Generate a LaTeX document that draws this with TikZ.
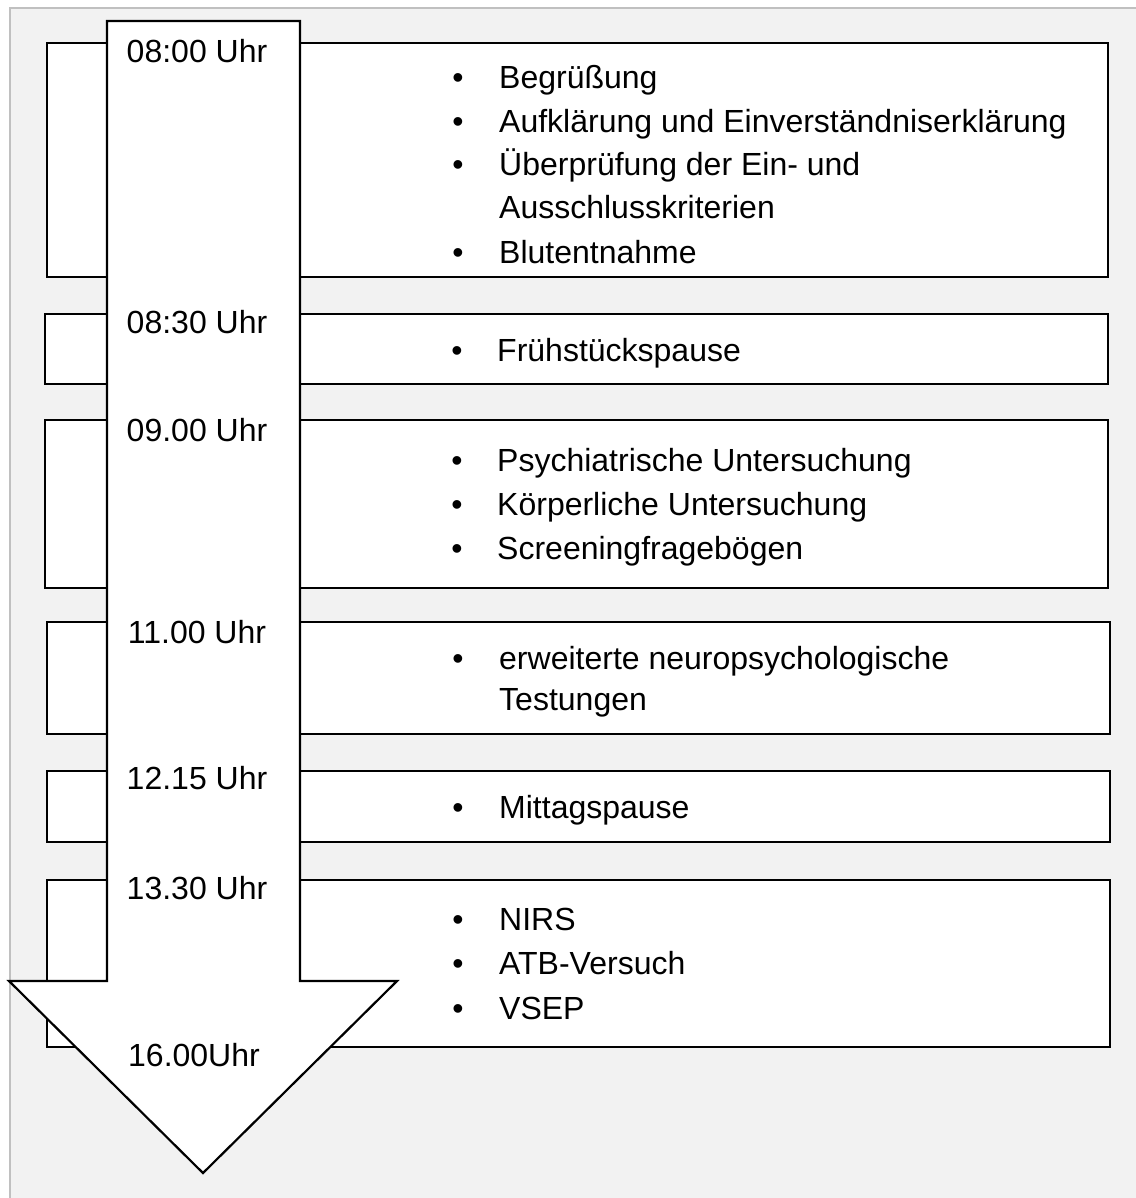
\documentclass[tikz,border=0pt]{standalone}
\usepackage{fontspec}
\setmainfont{Liberation Sans}
\begin{document}
\begin{tikzpicture}[x=1pt,y=-1pt,
  box/.style={draw=black,line width=2.2pt,fill=white},
  txt/.style={anchor=base west,inner sep=0pt,font=\fontsize{32}{38}\selectfont},
  bul/.style={anchor=base,inner sep=0pt,font=\fontsize{32}{38}\selectfont},
  tm/.style={anchor=base,inner sep=0pt,font=\fontsize{32}{38}\selectfont}]
\useasboundingbox (0,0) rectangle (1135,1198);
\fill[fill={rgb,255:red,242;green,242;blue,242}] (10,8) rectangle (1140,1205);
\draw[line width=1.2pt,draw={rgb,255:red,192;green,192;blue,192}] (10,1205) -- (10,8) -- (1140,8);
% boxes
\draw[box] (47,43) rectangle (1108,277);
\draw[box] (45,314) rectangle (1108,384);
\draw[box] (45,420) rectangle (1108,588);
\draw[box] (47,622) rectangle (1110,734);
\draw[box] (47,771) rectangle (1110,842);
\draw[box] (47,880) rectangle (1110,1047);
% arrow
\draw[box,line join=miter] (107,21) -- (300,21) -- (300,981) -- (397,981) -- (203,1173) -- (9,981) -- (107,981) -- cycle;
% times
\node[tm] (t1) at (197,63) {08:00 Uhr};
\node[tm] (t2) at (197,333) {08:30 Uhr};
\node[tm] (t3) at (197,441) {09.00 Uhr};
\node[tm] (t4) at (197,643) {11.00 Uhr};
\node[tm] (t5) at (197,789) {12.15 Uhr};
\node[tm] (t6) at (197,899) {13.30 Uhr};
\node[tm] (t7) at (194,1066) {16.00Uhr};
% box 1
\node[bul] (b11) at (458,89) {•};
\node[txt] (a11) at (499,89) {Begrüßung};
\node[bul] (b12) at (458,133) {•};
\node[txt] (a12) at (499,133) {Aufklärung und Einverständniserklärung};
\node[bul] (b13) at (458,176) {•};
\node[txt] (a13) at (499,176) {Überprüfung der Ein- und};
\node[txt] (a14) at (499,219) {Ausschlusskriterien};
\node[bul] (b15) at (458,263) {•};
\node[txt] (a15) at (499,263) {Blutentnahme};
% box 2
\node[bul] (b21) at (457,361) {•};
\node[txt] (a21) at (497,361) {Frühstückspause};
% box 3
\node[bul] (b31) at (457,471) {•};
\node[txt] (a31) at (497,471) {Psychiatrische Untersuchung};
\node[bul] (b32) at (457,515) {•};
\node[txt] (a32) at (497,515) {Körperliche Untersuchung};
\node[bul] (b33) at (457,559) {•};
\node[txt] (a33) at (497,559) {Screeningfragebögen};
% box 4
\node[bul] (b41) at (458,669) {•};
\node[txt] (a41) at (499,669) {erweiterte neuropsychologische};
\node[txt] (a42) at (499,710) {Testungen};
% box 5
\node[bul] (b51) at (458,818) {•};
\node[txt] (a51) at (499,818) {Mittagspause};
% box 6
\node[bul] (b61) at (458,930) {•};
\node[txt] (a61) at (499,930) {NIRS};
\node[bul] (b62) at (458,974) {•};
\node[txt] (a62) at (499,974) {ATB-Versuch};
\node[bul] (b63) at (458,1019) {•};
\node[txt] (a63) at (499,1019) {VSEP};
\end{tikzpicture}
\end{document}
